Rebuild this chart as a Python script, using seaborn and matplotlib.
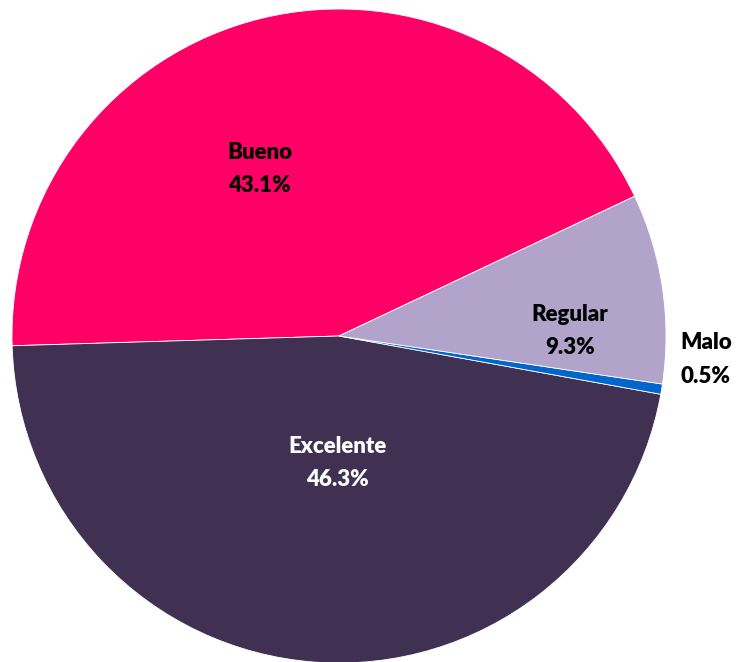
import matplotlib
matplotlib.use("Agg")
import matplotlib.pyplot as plt
import seaborn as sns

sns.set_theme(style="white")
plt.rcParams['font.family'] = ['Lato', 'DejaVu Sans']

# data
categories = ["Bueno", "Excelente", "Malo", "Regular"]
shares = [43.1, 46.3, 0.5, 9.3]
colors = ["#FF0066", "#403152", "#0066CC", "#B1A3C9"]
text_colors = ["black", "white", "black", "black"]

# label positions (pie radius = 1, centre at 0,0)
label_pos = [(-0.242, 0.511), (-0.006, -0.388), (1.122, -0.073), (0.706, 0.015)]

fig = plt.figure(figsize=(7.38, 6.62), dpi=100)
ax = fig.add_axes([0, 0, 1, 1])

ax.pie(shares, colors=colors, startangle=25.3, counterclock=True,
       radius=1.0, wedgeprops=dict(edgecolor="white", linewidth=0.6))

for cat, val, (x, y), tc in zip(categories, shares, label_pos, text_colors):
    ax.text(x, y, f"{cat}\n{val:.1f}%", ha="center", va="center",
            fontsize=16, fontweight="heavy", color=tc, linespacing=1.75)

# centre at (339, 336) px, radius 327 px
ax.set_xlim(-339 / 327, (738 - 339) / 327)
ax.set_ylim(-(662 - 336) / 327, 336 / 327)
ax.set_aspect("auto")
ax.axis("off")

fig.savefig("out.png", dpi=100)
